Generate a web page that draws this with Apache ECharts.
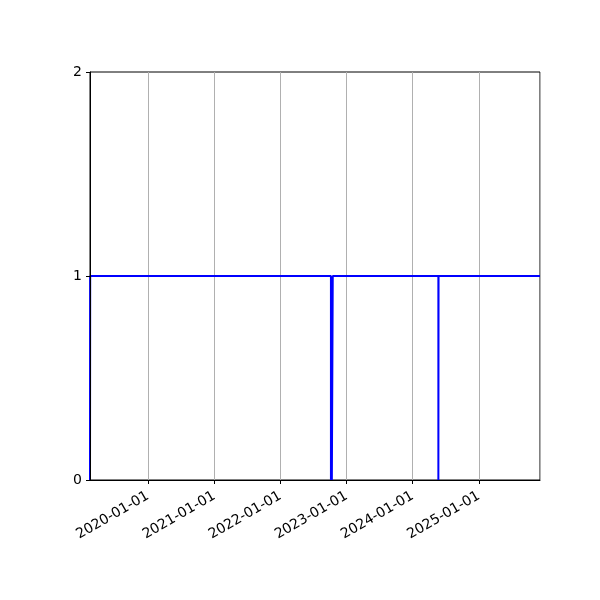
<!DOCTYPE html>
<html>
<head>
<meta charset="utf-8">
<script src="https://cdn.jsdelivr.net/npm/echarts@6/dist/echarts.min.js"></script>
<style>
	html, body { margin: 0; padding: 0; background: #fff; }
	#chart { width: 600px; height: 600px; }
</style>
</head>
<body>
<div id="chart"></div>
<script>
// data: status line, 1 = up, 0 = down
var xMin = '2019-02-15',
	xMax = '2025-12-04';
var times = [
	'2019-02-15', '2019-02-16',
	'2022-10-07', '2022-10-07', '2022-10-12', '2022-10-12',
	'2022-10-12', '2022-10-12', '2022-10-17', '2022-10-17',
	'2024-05-22', '2024-05-22', '2024-05-23', '2024-05-23',
	'2025-12-04'
];
var values = [
	0, 1,
	1, 0, 0, 1,
	1, 0, 0, 1,
	1, 0, 0, 1,
	1
];
var yTicks = [0, 1, 2];

var chart = echarts.init(document.getElementById('chart'), null, { renderer: 'canvas' });

var seriesData = times.map(function (t, i) {		// [time, value] pairs
	return [t, values[i]];
});

var font = 'DejaVu Sans';
var yearMs = 365 * 24 * 3600 * 1000;

chart.setOption({
	animation: false,
	grid: {
		left: 90, right: 60, top: 72, bottom: 120,
		show: true,
		borderColor: '#000',
		borderWidth: 1
	},
	xAxis: {
		type: 'time',
		min: xMin,
		max: xMax,
		minInterval: yearMs,
		splitNumber: 7,
		axisLine: { show: true, lineStyle: { color: '#000', width: 1 } },
		axisTick: { show: true, inside: false, length: 4, lineStyle: { color: '#000' } },
		splitLine: { show: true, lineStyle: { color: '#b0b0b0', width: 1 } },
		axisLabel: {
			showMinLabel: false,
			showMaxLabel: false,
			rotate: 30,
			margin: 15,
			color: '#000',
			fontFamily: font,
			fontSize: 14,
			formatter: '{yyyy}-{MM}-{dd}'
		}
	},
	yAxis: {
		type: 'value',
		min: 0,
		max: 2,
		interval: 1,
		z: 5,
		axisLine: { show: true, lineStyle: { color: '#000', width: 1 } },
		axisTick: { show: true, inside: false, length: 4, lineStyle: { color: '#000' } },
		splitLine: { show: false },
		axisLabel: {
			color: '#000',
			fontFamily: font,
			fontSize: 14,
			margin: 8,
			formatter: function (v) { return yTicks.indexOf(v) >= 0 ? String(v) : ''; }
		}
	},
	series: [{
		type: 'line',
		data: seriesData,
		showSymbol: false,
		lineStyle: { color: '#0000ff', width: 2 },
		z: 1
	}]
});
</script>
</body>
</html>
